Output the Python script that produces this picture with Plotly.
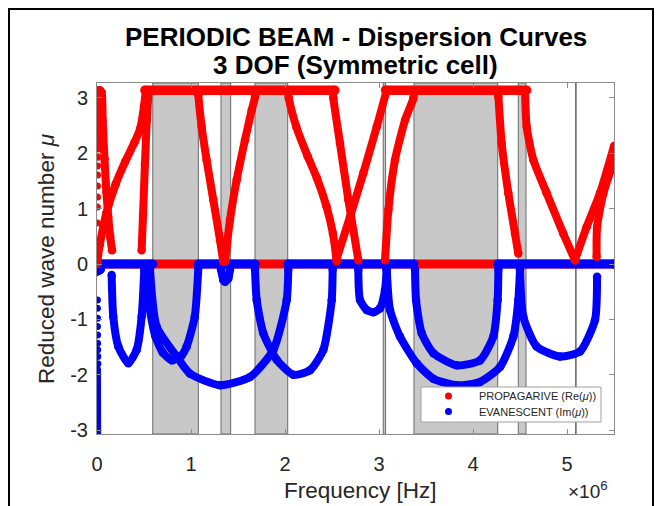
import plotly.graph_objects as go

# ---------------- data (frequency in MHz, reduced wave number mu) ----------------
# stop bands (grey)
band_start = [0.593, 1.319, 1.681, 3.045, 3.372, 4.482, 5.092]
band_end   = [1.078, 1.422, 2.029, 3.070, 4.263, 4.564, 5.097]

# propagating branches: Re(mu)
red_top1_f = [0.51, 2.53];  red_top1_mu = [3.14, 3.14]
red_top2_f = [3.07, 4.57];  red_top2_mu = [3.14, 3.14]
red_zero_f = [0.0, 5.5];    red_zero_mu = [0.0, 0.0]
red_A_f  = [0.0, 0.03, 0.10, 0.20, 0.30, 0.40, 0.46, 0.50, 0.52]
red_A_mu = [0.0, 0.35, 0.92, 1.45, 1.85, 2.20, 2.45, 2.85, 3.14]
red_B_f  = [0.012, 0.03, 0.05, 0.06, 0.08, 0.10, 0.12, 0.14, 0.16]
red_B_mu = [3.14, 3.14, 3.10, 2.60, 1.90, 1.30, 0.85, 0.50, 0.25]
red_C_f  = [0.475, 0.49, 0.51, 0.53, 0.55]
red_C_mu = [0.25, 0.90, 1.80, 2.60, 3.14]
red_D_f  = [1.075, 1.078, 1.113, 1.166, 1.237, 1.309, 1.344]
red_D_mu = [3.14, 3.05, 2.48, 1.88, 1.16, 0.43, 0.04]
red_E_f  = [1.362, 1.415, 1.486, 1.574, 1.646, 1.681, 1.685]
red_E_mu = [0.04, 0.80, 1.52, 2.24, 2.78, 3.02, 3.14]
red_F_f  = [2.03, 2.04, 2.12, 2.24, 2.34, 2.44, 2.51, 2.55]
red_F_mu = [3.14, 3.00, 2.48, 1.95, 1.55, 1.05, 0.55, 0.05]
red_G_f  = [2.51, 2.514, 2.585, 2.674, 2.78]
red_G_mu = [3.14, 3.00, 2.18, 1.16, 0.07]
red_H_f  = [2.55, 2.691, 2.833, 2.976, 3.082]
red_H_mu = [0.10, 0.85, 1.64, 2.48, 3.14]
red_I_f  = [3.064, 3.10, 3.17, 3.277, 3.365, 3.372]
red_I_mu = [0.07, 0.98, 1.88, 2.60, 2.99, 3.14]
red_J_f  = [4.265, 4.27, 4.305, 4.376, 4.447, 4.482]
red_J_mu = [3.14, 3.02, 2.18, 1.28, 0.55, 0.19]
red_K_f  = [4.553, 4.571, 4.642, 4.784, 4.96, 5.085]
red_K_mu = [3.14, 2.48, 1.88, 1.28, 0.55, 0.07]
red_L_f  = [5.085, 5.209, 5.351, 5.50]
red_L_mu = [0.07, 0.67, 1.28, 2.13]
red_M_f  = [5.315, 5.32, 5.387, 5.50]
red_M_mu = [0.13, 0.67, 1.28, 1.86]
red_colline_f  = [0.010, 0.012]
red_colline_mu = [2.20, 3.14]
red_col_f  = [0.004, 0.004, 0.005, 0.005, 0.006, 0.006, 0.007, 0.008, 0.009]
red_col_mu = [0.74, 1.03, 1.21, 1.41, 1.61, 1.77, 1.93, 2.08, 2.19]

# evanescent branches: Im(mu)
blue_zero_f0 = [0.0, 1.078, 2.029, 4.263]
blue_zero_f1 = [0.593, 1.681, 3.372, 5.5]
blue_1_f  = [0.156, 0.173, 0.227, 0.333, 0.422, 0.475, 0.503]
blue_1_mu = [-0.20, -0.95, -1.49, -1.79, -1.55, -0.95, -0.11]
blue_2_f  = [0.54, 0.56, 0.62, 0.70, 0.80, 0.90, 0.954, 1.04, 1.078]
blue_2_mu = [-0.10, -0.80, -1.30, -1.60, -1.74, -1.65, -1.49, -0.95, -0.07]
blue_3_f  = [0.564, 0.634, 0.848, 0.989, 1.309, 1.628, 1.876, 2.018, 2.035]
blue_3_mu = [-0.10, -1.13, -1.67, -1.98, -2.19, -2.04, -1.55, -0.65, -0.10]
blue_4_f  = [1.681, 1.699, 1.769, 1.912, 2.089, 2.266, 2.408, 2.497, 2.507]
blue_4_mu = [-0.10, -0.65, -1.25, -1.73, -2.00, -1.92, -1.55, -0.65, -0.10]
blue_5_f  = [1.319, 1.344, 1.362, 1.397, 1.415]
blue_5_mu = [-0.10, -0.29, -0.32, -0.26, -0.10]
blue_6_f  = [2.78, 2.798, 2.869, 2.94, 3.011, 3.064, 3.082]
blue_6_mu = [-0.10, -0.65, -0.83, -0.87, -0.80, -0.47, -0.10]
blue_7_f  = [3.082, 3.117, 3.223, 3.40, 3.578, 3.826, 4.075, 4.287, 4.429, 4.482, 4.50]
blue_7_mu = [-0.10, -0.83, -1.31, -1.79, -2.07, -2.19, -2.13, -1.86, -1.31, -0.65, -0.10]
blue_8_f  = [3.383, 3.394, 3.454, 3.578, 3.826, 4.075, 4.216, 4.262, 4.27]
blue_8_mu = [-0.10, -0.65, -1.25, -1.61, -1.83, -1.74, -1.31, -0.65, -0.10]
blue_9_f  = [4.50, 4.535, 4.677, 4.926, 5.138, 5.298, 5.32]
blue_9_mu = [-0.10, -0.95, -1.49, -1.67, -1.58, -1.01, -0.23]
blue_stub_f  = [0.0, 0.02, 0.04]
blue_stub_mu = [0.0, -0.12, -0.10]
blue_colline_f  = [0.010, 0.012]
blue_colline_mu = [-1.90, -3.05]
blue_col_f  = [0.004, 0.004, 0.005, 0.005, 0.006, 0.006, 0.007, 0.008, 0.009]
blue_col_mu = [-0.65, -0.80, -0.98, -1.13, -1.28, -1.43, -1.55, -1.67, -1.80]

x_tick_vals = [0, 1, 2, 3, 4, 5]
x_tick_text = ["0", "1", "2", "3", "4", "5"]
y_tick_vals = [-3, -2, -1, 0, 1, 2, 3]
y_tick_text = ["-3", "-2", "-1", "0", "1", "2", "3"]

# ---------------- figure ----------------
W, H = 665, 506
L, R, T, B = 97, 51, 83, 72
PW, PH = W - L - R, H - T - B
MHZ = 1e6
RED, BLUE = "#ff0000", "#0000ff"
FONT = "Liberation Sans, Arial, sans-serif"


def pxx(xpix):
    return (xpix - L) / PW


def pxy(ypix):
    return (H - B - ypix) / PH


fig = go.Figure()


def branch(f, mu, color, smooth=True, width=8, msize=8.5):
    fig.add_trace(go.Scatter(
        x=[v * MHZ for v in f], y=mu, mode="lines+markers",
        line=dict(color=color, width=width, shape="spline" if smooth else "linear", smoothing=0.6),
        marker=dict(color=color, size=msize),
        showlegend=False, hoverinfo="skip"))


def dots(f, mu, color):
    fig.add_trace(go.Scatter(
        x=[v * MHZ for v in f], y=mu, mode="markers",
        marker=dict(color=color, size=7),
        showlegend=False, hoverinfo="skip"))


branch(red_zero_f, red_zero_mu, RED, False, width=9, msize=9)
for a, b in zip(blue_zero_f0, blue_zero_f1):
    branch([a, b], [0.0, 0.0], BLUE, False, width=9, msize=9)

for f, mu in [(blue_1_f, blue_1_mu), (blue_2_f, blue_2_mu), (blue_3_f, blue_3_mu),
              (blue_4_f, blue_4_mu), (blue_5_f, blue_5_mu), (blue_6_f, blue_6_mu),
              (blue_7_f, blue_7_mu), (blue_8_f, blue_8_mu), (blue_9_f, blue_9_mu)]:
    branch(f, mu, BLUE)
branch(blue_stub_f, blue_stub_mu, BLUE, False)
branch(blue_colline_f, blue_colline_mu, BLUE, False, width=6, msize=6)
dots(blue_col_f, blue_col_mu, BLUE)

branch(red_top1_f, red_top1_mu, RED, False, width=9.5, msize=9.5)
branch(red_top2_f, red_top2_mu, RED, False, width=9.5, msize=9.5)
for f, mu in [(red_A_f, red_A_mu), (red_B_f, red_B_mu), (red_C_f, red_C_mu),
              (red_D_f, red_D_mu), (red_E_f, red_E_mu), (red_F_f, red_F_mu),
              (red_G_f, red_G_mu), (red_H_f, red_H_mu), (red_I_f, red_I_mu),
              (red_J_f, red_J_mu), (red_K_f, red_K_mu), (red_L_f, red_L_mu),
              (red_M_f, red_M_mu)]:
    branch(f, mu, RED)
branch(red_colline_f, red_colline_mu, RED, False, width=6, msize=6)
dots(red_col_f, red_col_mu, RED)

shapes = []
for a, b in zip(band_start, band_end):
    shapes.append(dict(type="rect", xref="x", yref="paper", x0=a * MHZ, x1=b * MHZ, y0=0, y1=1,
                       fillcolor="#c8c8c8", line=dict(color="#6a6a6a", width=1), layer="below"))

# legend box (manual)
shapes.append(dict(type="rect", xref="paper", yref="paper", x0=pxx(421), x1=pxx(601),
                   y0=pxy(422), y1=pxy(387), fillcolor="white",
                   line=dict(color="#a0a0a0", width=1), layer="above"))
for yy, col in [(396, RED), (411.5, BLUE)]:
    shapes.append(dict(type="circle", xref="paper", yref="paper", xsizemode="pixel", ysizemode="pixel",
                       xanchor=pxx(448.5), yanchor=pxy(yy), x0=-3.5, x1=3.5, y0=-3.5, y1=3.5,
                       fillcolor=col, line=dict(color=col, width=0), layer="above"))
# outer frame
shapes.append(dict(type="rect", xref="paper", yref="paper", x0=pxx(9), x1=pxx(653),
                   y0=pxy(530), y1=pxy(9), line=dict(color="black", width=2), layer="above"))

annotations = [
    dict(text="<b>PERIODIC BEAM - Dispersion Curves</b>", x=pxx(355.5), y=pxy(37)),
    dict(text="<b>3 DOF (Symmetric cell)</b>", x=pxx(355.5), y=pxy(65)),
]
for a in annotations:
    a.update(xref="paper", yref="paper", showarrow=False, xanchor="center", yanchor="middle",
             font=dict(family=FONT, size=26, color="black"))
annotations += [
    dict(text="Frequency [Hz]", x=pxx(360), y=pxy(490), xref="paper", yref="paper", showarrow=False,
         xanchor="center", yanchor="middle", font=dict(family=FONT, size=22.5, color="#262626")),
    dict(text="Reduced wave number <i>μ</i>", x=pxx(46), y=pxy(259), xref="paper", yref="paper",
         showarrow=False, textangle=-90, xanchor="center", yanchor="middle",
         font=dict(family=FONT, size=22.5, color="#262626")),
    dict(text="×10<sup>6</sup>", x=pxx(588), y=pxy(490), xref="paper", yref="paper", showarrow=False,
         xanchor="center", yanchor="middle", font=dict(family=FONT, size=19, color="#262626")),
    dict(text="PROPAGARIVE (Re(<i>μ</i>))", x=pxx(477), y=pxy(396), xref="paper", yref="paper",
         showarrow=False, xanchor="left", yanchor="middle", font=dict(family=FONT, size=11, color="#262626")),
    dict(text="EVANESCENT (Im(<i>μ</i>))", x=pxx(477), y=pxy(411.5), xref="paper", yref="paper",
         showarrow=False, xanchor="left", yanchor="middle", font=dict(family=FONT, size=11, color="#262626")),
]

axis_common = dict(showline=True, mirror="ticks", linecolor="#8c8c8c", linewidth=1,
                   ticks="inside", ticklen=5, tickcolor="#8c8c8c", showgrid=False, zeroline=False,
                   tickfont=dict(family=FONT, size=20, color="#262626"))

fig.update_layout(
    width=W, height=H, margin=dict(l=L, r=R, t=T, b=B),
    paper_bgcolor="white", plot_bgcolor="white",
    xaxis=dict(range=[0, 5.5 * MHZ], tickvals=[v * MHZ for v in x_tick_vals], ticktext=x_tick_text,
               ticklabelstandoff=12, **axis_common),
    yaxis=dict(range=[-3.07, 3.27], tickvals=y_tick_vals, ticktext=y_tick_text,
               ticklabelstandoff=4, **axis_common),
    shapes=shapes, annotations=annotations, showlegend=False,
)

fig.write_html("out.html", config={"displayModeBar": False},
               post_script="document.body.style.margin='0';document.body.style.overflow='hidden';")
